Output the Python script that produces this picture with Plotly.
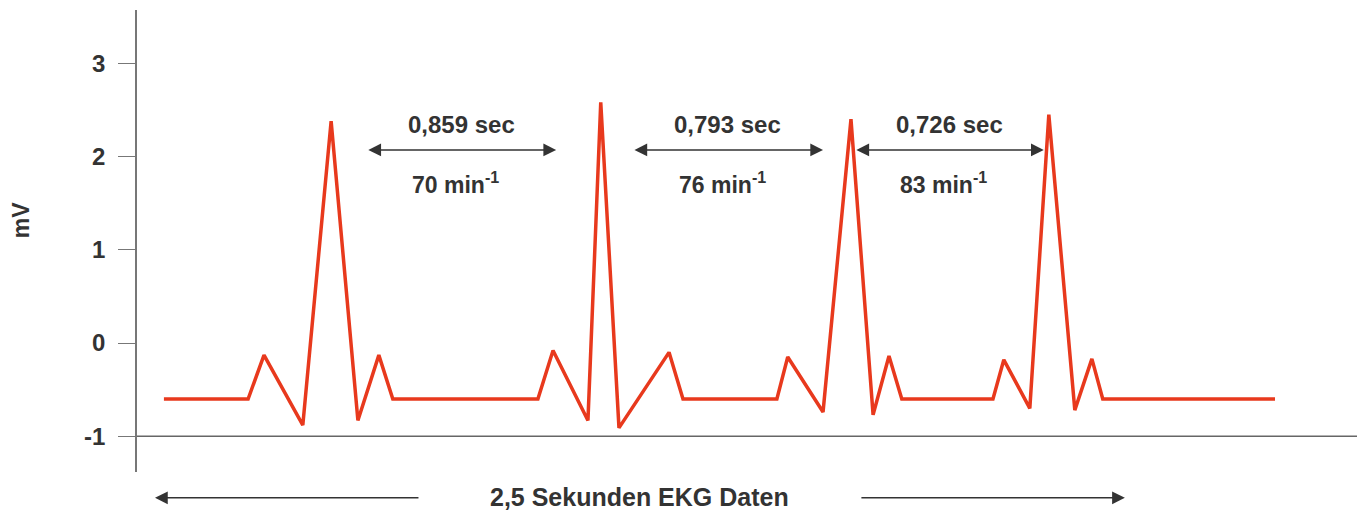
import plotly.graph_objects as go

# ECG trace (time in seconds, voltage in mV)
time_s = [0.023, 0.240, 0.281, 0.381, 0.454, 0.523, 0.577, 0.613,
          0.987, 1.026, 1.116, 1.149, 1.196, 1.325, 1.361,
          1.603, 1.631, 1.722, 1.794, 1.851, 1.892, 1.925,
          2.160, 2.188, 2.255, 2.304, 2.371, 2.415, 2.443, 2.887]
voltage_mv = [-0.60, -0.60, -0.13, -0.88, 2.38, -0.83, -0.13, -0.60,
              -0.60, -0.08, -0.83, 2.58, -0.91, -0.10, -0.60,
              -0.60, -0.15, -0.74, 2.40, -0.77, -0.14, -0.60,
              -0.60, -0.18, -0.70, 2.45, -0.72, -0.17, -0.60, -0.60]

# RR intervals
interval_labels = ["0,859 sec", "0,793 sec", "0,726 sec"]
rate_labels = ["70 min<sup>-1</sup>", "76 min<sup>-1</sup>", "83 min<sup>-1</sup>"]
interval_start = [0.546, 1.232, 1.804]
interval_end = [1.034, 1.722, 2.291]
interval_level = 2.07

y_ticks = [-1, 0, 1, 2, 3]
y_tick_labels = ["-1", "0", "1", "2", "3"]
x_title = "2,5 Sekunden EKG Daten"
y_title = "mV"
total_span = 2.5

TEXT = "#333333"
FONT = "Liberation Sans, Arial, sans-serif"

fig = go.Figure()
fig.add_trace(go.Scatter(
    x=time_s, y=voltage_mv, mode="lines",
    line=dict(color="#E8391D", width=3.5),
    hoverinfo="skip", showlegend=False,
))

annotations = []
for s, e, lab, rate in zip(interval_start, interval_end, interval_labels, rate_labels):
    mid = (s + e) / 2
    annotations.append(dict(
        x=e, y=interval_level, ax=s, ay=interval_level,
        xref="x", yref="y", axref="x", ayref="y",
        text="", showarrow=True, arrowhead=2, startarrowhead=2,
        arrowside="end+start", arrowsize=1.7, startarrowsize=1.7,
        arrowwidth=1.5, arrowcolor="#333333", standoff=0, startstandoff=0,
    ))
    annotations.append(dict(
        x=mid, y=2.34, xref="x", yref="y", text=lab, showarrow=False,
        xanchor="center", yanchor="middle",
        font=dict(family=FONT, size=24, color=TEXT, weight="bold"),
    ))
    annotations.append(dict(
        x=mid - 0.015, y=1.72, xref="x", yref="y", text=rate, showarrow=False,
        xanchor="center", yanchor="middle",
        font=dict(family=FONT, size=23, color=TEXT, weight="bold"),
    ))

# bottom span label with arrows
annotations.append(dict(
    x=total_span / 2, y=-0.055, xref="x", yref="paper", text=x_title,
    xanchor="center", yanchor="middle",
    showarrow=False, font=dict(family=FONT, size=25, color=TEXT, weight="bold"),
))
annotations.append(dict(
    x=0, y=-0.056, ax=0.683, ay=0, xref="x", yref="paper", axref="x", ayref="pixel",
    text="", showarrow=True, arrowhead=2, arrowsize=1.7, arrowwidth=1.5,
    arrowcolor="#333333", standoff=0,
))
annotations.append(dict(
    x=total_span, y=-0.056, ax=total_span - 0.683, ay=0, xref="x", yref="paper",
    axref="x", ayref="pixel",
    text="", showarrow=True, arrowhead=2, arrowsize=1.7, arrowwidth=1.5,
    arrowcolor="#333333", standoff=0,
))
annotations.append(dict(
    x=-0.0945, y=0.545, xref="paper", yref="paper", text=y_title, textangle=-90,
    xanchor="center", yanchor="middle",
    showarrow=False, font=dict(family=FONT, size=23, color=TEXT, weight="bold"),
))

fig.update_layout(
    width=1357, height=506,
    margin=dict(l=129, r=0, t=2, b=42),
    paper_bgcolor="white", plot_bgcolor="white",
    xaxis=dict(range=[-0.0464, 3.119], visible=False, fixedrange=True),
    yaxis=dict(
        range=[-1.383, 3.571], tickvals=y_ticks, ticktext=y_tick_labels,
        showgrid=False, zeroline=False,
        showline=True, linecolor="#777777", linewidth=1.5,
        ticks="outside", ticklen=17, tickwidth=1.2, tickcolor="#777777",
        ticklabelstandoff=8,
        tickfont=dict(family=FONT, size=24, color=TEXT, weight="bold"),
    ),
    shapes=[dict(type="line", xref="paper", yref="y", x0=0, x1=1, y0=-1, y1=-1,
                 line=dict(color="#666666", width=1.5))],
    annotations=annotations,
    showlegend=False,
)

fig.write_html("out.html")
